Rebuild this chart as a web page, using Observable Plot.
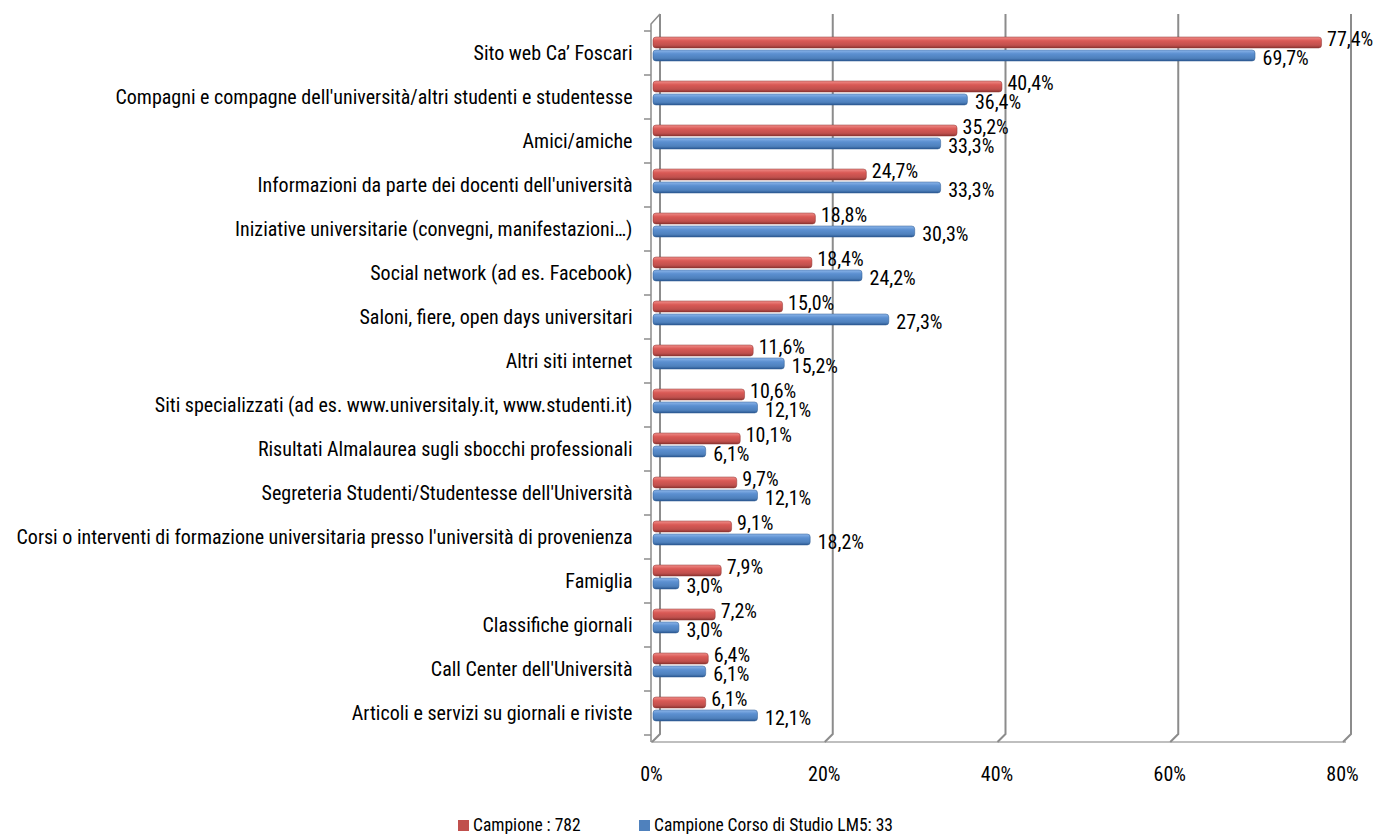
<!DOCTYPE html>
<html>
<head>
<meta charset="utf-8">
<script src="https://cdn.jsdelivr.net/npm/d3@7"></script>
<script src="https://cdn.jsdelivr.net/npm/@observablehq/plot@0.6"></script>
<style>
  body { margin: 0; background: #fff; font-family: "Roboto Condensed", sans-serif; }
  #legend { height: 28px; position: relative; font-size: 17.5px; font-weight: 400; color: #000; }
  .item { position: absolute; top: 10px; line-height: 18px; white-space: nowrap; }
  .sw { display: inline-block; width: 11px; height: 11px; margin-right: 4px; vertical-align: 0px; }
</style>
</head>
<body>
<div id="chart"></div>
<div id="legend"></div>
<script>
const categories = [
  "Sito web Ca’ Foscari",
  "Compagni e compagne dell'università/altri studenti e studentesse",
  "Amici/amiche",
  "Informazioni da parte dei docenti dell'università",
  "Iniziative universitarie (convegni, manifestazioni…)",
  "Social network (ad es. Facebook)",
  "Saloni, fiere, open days universitari",
  "Altri siti internet",
  "Siti specializzati (ad es. www.universitaly.it, www.studenti.it)",
  "Risultati Almalaurea sugli sbocchi professionali",
  "Segreteria Studenti/Studentesse dell'Università",
  "Corsi o interventi di formazione universitaria presso l'università di provenienza",
  "Famiglia",
  "Classifiche giornali",
  "Call Center dell'Università",
  "Articoli e servizi su giornali e riviste"
];
const campione = [77.4, 40.4, 35.2, 24.7, 18.8, 18.4, 15.0, 11.6, 10.6, 10.1, 9.7, 9.1, 7.9, 7.2, 6.4, 6.1];
const campioneLM5 = [69.7, 36.4, 33.3, 33.3, 30.3, 24.2, 27.3, 15.2, 12.1, 6.1, 12.1, 18.2, 3.0, 3.0, 6.1, 12.1];
const seriesNames = ["Campione : 782", "Campione Corso di Studio LM5: 33"];
const xTicks = [0, 20, 40, 60, 80];

const fmt = v => v.toFixed(1).replace(".", ",") + "%";
const red = categories.map((c, i) => ({category: c, value: campione[i]}));
const blue = categories.map((c, i) => ({category: c, value: campioneLM5[i]}));

const W = 1378, H = 806;
const fontFam = "'Roboto Condensed', sans-serif";

// 3D-ish frame: back grid lines with slanted feet, left wall, floor, boundary ticks
function frame3d(index, scales, values, dims) {
  const g = d3.create("svg:g");
  const top = dims.marginTop, bottom = dims.height - dims.marginBottom;
  const off = 7;
  const x = scales.x;
  g.append("line").attr("x1", x(0) - 2).attr("x2", x(80) + 2).attr("y1", bottom).attr("y2", bottom)
    .attr("stroke", "#bfbfbf").attr("stroke-width", 2);
  for (const v of xTicks) {
    const px = x(v);
    g.append("path")
      .attr("d", `M${px + off},${top - 9}V${bottom - 8}L${px - 1},${bottom}`)
      .attr("fill", "none").attr("stroke", "#8c8c8c").attr("stroke-width", 2);
  }
  g.append("path")
    .attr("d", `M${x(0) + off},${top - 9}L${x(0) - 2},${top + 1}V${bottom}`)
    .attr("fill", "none").attr("stroke", "#8c8c8c").attr("stroke-width", 1.5);
  const y = scales.y;
  const bw = y.bandwidth();
  for (let i = 0; i <= categories.length; i++) {
    const py = i < categories.length ? y(categories[i]) : y(categories[categories.length - 1]) + bw;
    g.append("line").attr("x1", x(0) - 9).attr("x2", x(0) - 2).attr("y1", py).attr("y2", py)
      .attr("stroke", "#8c8c8c").attr("stroke-width", 1.5);
  }
  return g.node();
}

const chart = Plot.plot({
  width: W,
  height: H,
  marginLeft: 653,
  marginRight: 34,
  marginTop: 23,
  marginBottom: 64,
  style: {fontFamily: fontFam, fontSize: "20px", fontWeight: 400, color: "#000", background: "#fff"},
  x: {domain: [0, 80], ticks: xTicks, tickFormat: d => d + "%", label: null},
  y: {domain: categories, padding: 0, label: null},
  marks: [
    frame3d,
    Plot.axisX(xTicks, {tickSize: 0, tickPadding: 24, tickFormat: d => d + "%", fontSize: 20, dx: -2}),
    Plot.axisY({tickSize: 0, tickPadding: 21, fontSize: 20}),
    Plot.barX(red, {x: "value", y: "category", fill: "url(#gRed)", insetTop: 6, insetBottom: 27, rx: 3, stroke: "#8f3533", strokeWidth: 0.5}),
    Plot.barX(blue, {x: "value", y: "category", fill: "url(#gBlue)", insetTop: 19, insetBottom: 14, rx: 3, stroke: "#2d5a90", strokeWidth: 0.5}),
    Plot.text(red, {x: "value", y: "category", text: d => fmt(d.value), textAnchor: "start", dx: 5, dy: -14, fontSize: 20, fill: "#000"}),
    Plot.text(blue, {x: "value", y: "category", text: d => fmt(d.value), textAnchor: "start", dx: 7, dy: 5, fontSize: 20, fill: "#000"})
  ]
});

chart.insertAdjacentHTML("afterbegin", `
<defs>
  <linearGradient id="gRed" x1="0" y1="0" x2="0" y2="1">
    <stop offset="0" stop-color="#f08e8a"/>
    <stop offset="0.35" stop-color="#d95955"/>
    <stop offset="0.75" stop-color="#c0504d"/>
    <stop offset="1" stop-color="#8c3431"/>
  </linearGradient>
  <linearGradient id="gBlue" x1="0" y1="0" x2="0" y2="1">
    <stop offset="0" stop-color="#8db6ea"/>
    <stop offset="0.35" stop-color="#5b8fd0"/>
    <stop offset="0.75" stop-color="#4f81bd"/>
    <stop offset="1" stop-color="#2b5891"/>
  </linearGradient>
</defs>`);

document.getElementById("chart").appendChild(chart);

const legend = document.getElementById("legend");
const colors = ["#c0504d", "#4f81bd"];
const lefts = [458, 639];
seriesNames.forEach((n, i) => {
  const d = document.createElement("div");
  d.className = "item";
  d.style.left = lefts[i] + "px";
  d.innerHTML = `<span class="sw" style="background:${colors[i]}"></span>${n}`;
  legend.appendChild(d);
});
</script>
</body>
</html>
